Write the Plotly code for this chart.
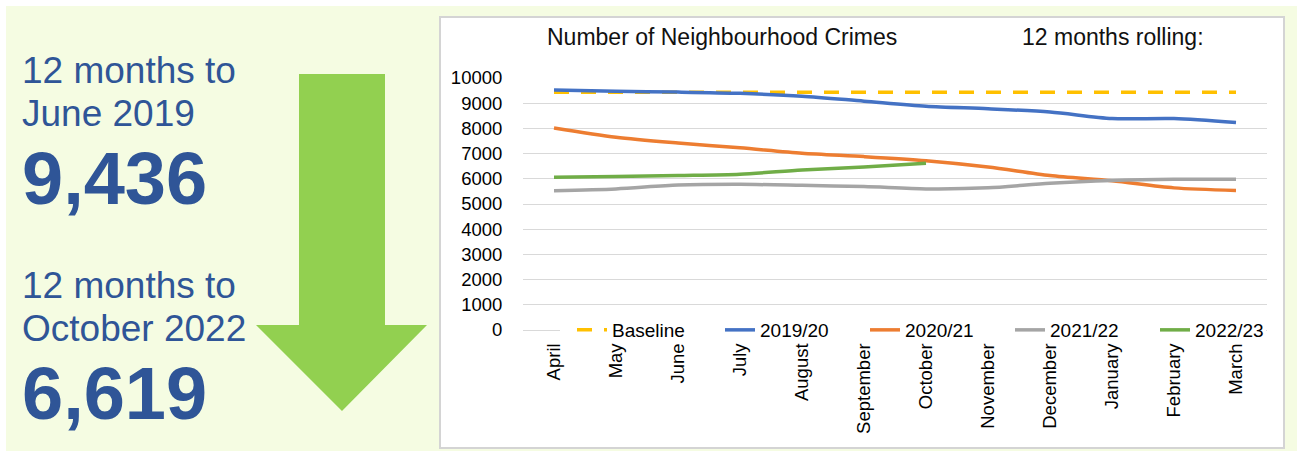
import plotly.graph_objects as go

# ---- data -------------------------------------------------------------
months = ["April", "May", "June", "July", "August", "September", "October",
          "November", "December", "January", "February", "March"]

baseline = [9436, 9436, 9436, 9436, 9436, 9436, 9436, 9436, 9436, 9436, 9436, 9436]
y2019_20 = [9520, 9470, 9440, 9390, 9280, 9080, 8880, 8780, 8650, 8390, 8390, 8230]
y2020_21 = [8020, 7650, 7420, 7230, 7010, 6880, 6720, 6470, 6130, 5920, 5640, 5540]
y2021_22 = [5530, 5600, 5750, 5780, 5740, 5690, 5600, 5640, 5820, 5930, 5980, 5980]
y2022_23 = [6060, 6090, 6130, 6180, 6350, 6470, 6619]

y_ticks = [0, 1000, 2000, 3000, 4000, 5000, 6000, 7000, 8000, 9000, 10000]

headline_from = "9,436"
headline_to = "6,619"

# ---- layout geometry (pixels) ----------------------------------------
FIG_W, FIG_H = 1297, 451
M_L, M_R, M_T, M_B = 523, 30, 78, 121
PW = FIG_W - M_L - M_R
PH = FIG_H - M_T - M_B


def px(x):
    return (x - M_L) / PW


def py(y):
    return (FIG_H - M_B - y) / PH


FONT = "Liberation Sans, Arial, sans-serif"
NAVY = "#2F5597"

# name, values, colour, dash, left edge of its legend entry (px)
series = [
    ("Baseline", baseline, "#FFC000", "15px,12px", 572),
    ("2019/20", y2019_20, "#4472C4", "solid", 720),
    ("2020/21", y2020_21, "#ED7D31", "solid", 865),
    ("2021/22", y2021_22, "#A5A5A5", "solid", 1010),
    ("2022/23", y2022_23, "#70AD47", "solid", 1155),
]

fig = go.Figure()
legends = {}
for i, (name, vals, color, dash, lx) in enumerate(series):
    key = "legend" if i == 0 else f"legend{i + 1}"
    fig.add_trace(go.Scatter(
        x=months[:len(vals)], y=vals, name=name, mode="lines", legend=key,
        line=dict(color=color, width=3.5, dash=dash,
                  shape="linear" if dash != "solid" else "spline",
                  smoothing=0.8),
    ))
    legends[key] = dict(
        orientation="h", x=px(lx), xanchor="left", y=0, yanchor="middle",
        bgcolor="rgba(0,0,0,0)", borderwidth=0,
        font=dict(family=FONT, size=19, color="#000000"),
        itemclick=False, itemdoubleclick=False,
    )

# ---- background panels, legend strip and arrow ------------------------
shapes = [
    dict(type="rect", xref="paper", yref="paper", layer="below",
         x0=px(6), x1=px(FIG_W), y0=py(6), y1=py(FIG_H),
         fillcolor="#F5FCE2", line=dict(width=0)),
    dict(type="rect", xref="paper", yref="paper", layer="below",
         x0=px(440), x1=px(1284), y0=py(17), y1=py(448),
         fillcolor="#FFFFFF", line=dict(color="#D4D4D4", width=2)),
    # white strip behind the legend row, hiding the zero gridline there
    dict(type="rect", xref="paper", yref="paper", layer="above",
         x0=px(560), x1=px(1266), y0=py(323), y1=py(336),
         fillcolor="#FFFFFF", line=dict(width=0)),
]
arrow_pts = [(299, 74), (385, 74), (385, 325), (427, 325), (342, 411),
             (256, 325), (299, 325)]
path = "M " + " L ".join(f"{px(a):.5f},{py(b):.5f}" for a, b in arrow_pts) + " Z"
shapes.append(dict(type="path", xref="paper", yref="paper", layer="below",
                   path=path, fillcolor="#92D050", line=dict(width=0)))

# ---- text -------------------------------------------------------------
def label(text, x, y, size, color, bold=False):
    return dict(text=f"<b>{text}</b>" if bold else text, xref="paper", yref="paper",
                x=px(x), y=py(y), xanchor="left", yanchor="middle",
                showarrow=False, font=dict(family=FONT, size=size, color=color))


annotations = [
    label("12 months to", 20, 70.8, 37, NAVY),
    label("June 2019", 20, 113.3, 37, NAVY),
    label(headline_from, 20, 178.3, 74, NAVY, bold=True),
    label("12 months to", 20, 285.8, 37, NAVY),
    label("October 2022", 20, 328.3, 37, NAVY),
    label(headline_to, 20, 393.3, 74, NAVY, bold=True),
    label("Number of Neighbourhood Crimes", 545, 36.7, 23, "#111111"),
    label("12 months rolling:", 1020, 36.7, 23, "#111111"),
]

fig.update_layout(
    width=FIG_W, height=FIG_H,
    margin=dict(l=M_L, r=M_R, t=M_T, b=M_B, pad=0),
    paper_bgcolor="#FFFFFF", plot_bgcolor="rgba(0,0,0,0)",
    font=dict(family=FONT, color="#000000"),
    shapes=shapes, annotations=annotations,
    showlegend=True,
    **legends,
)
fig.update_xaxes(
    type="category", categoryorder="array", categoryarray=months,
    range=[-0.5, 11.5], showgrid=False, zeroline=False, showline=False,
    tickangle=-90, ticks="outside", ticklen=5, tickcolor="rgba(0,0,0,0)",
    tickfont=dict(family=FONT, size=18.5, color="#000000"),
)
fig.update_yaxes(
    range=[0, 10000], tickvals=y_ticks, tickformat="d",
    showgrid=True, gridcolor="#D9D9D9",
    gridwidth=1.2, zeroline=True, zerolinecolor="#D9D9D9", zerolinewidth=1.2,
    showline=False, ticks="outside", ticklen=16, tickcolor="rgba(0,0,0,0)",
    tickfont=dict(family=FONT, size=18.5, color="#000000"),
)

fig.write_html("out.html")
